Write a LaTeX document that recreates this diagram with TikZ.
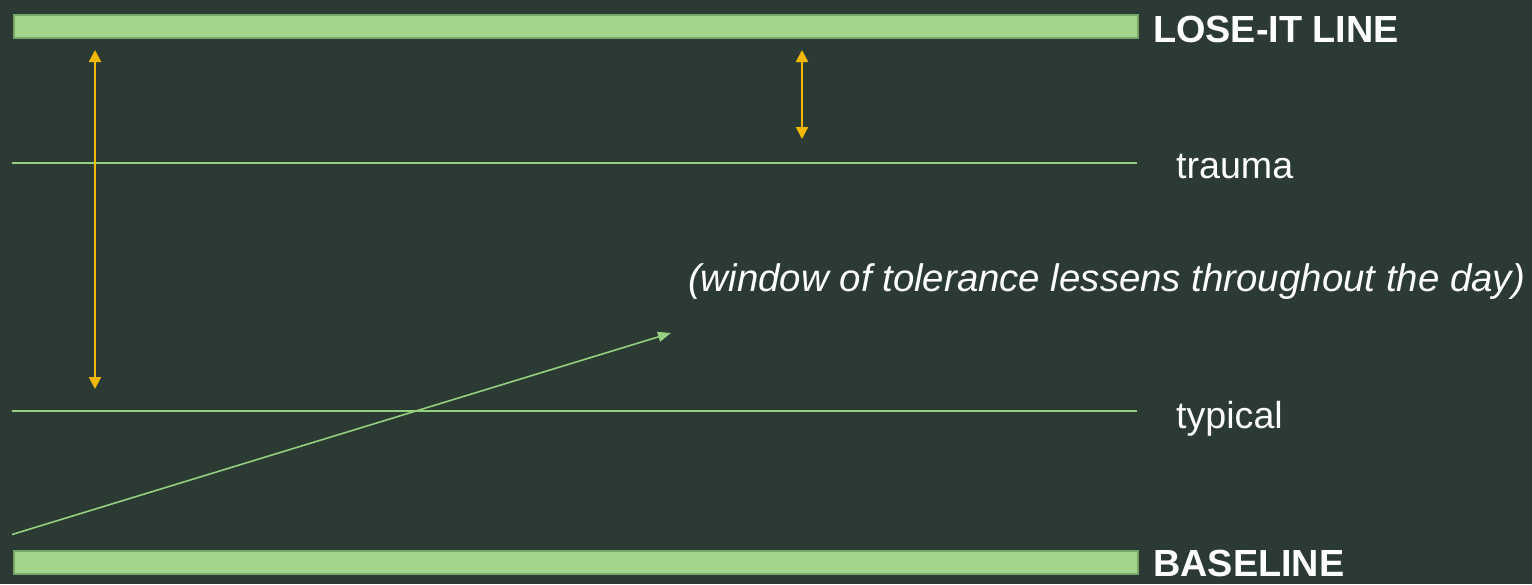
\documentclass[tikz,border=0pt]{standalone}
\usepackage{fontspec}
\setmainfont{Liberation Sans}
\usetikzlibrary{arrows.meta}
\definecolor{bg}{HTML}{2B3A33}
\definecolor{barfill}{HTML}{A3D68C}
\definecolor{barline}{HTML}{78A666}
\definecolor{thinline}{HTML}{95CF80}
\definecolor{amber}{HTML}{F5B800}
\tikzset{
  bar/.style={draw=barline, line width=2.5pt, fill=barfill, minimum width=1124pt, minimum height=23pt, inner sep=0pt, anchor=north west},
  biglabel/.style={text=white, font=\fontsize{37.8}{45}\selectfont\bfseries, anchor=base west, inner sep=0pt},
  smalllabel/.style={text=white, font=\fontsize{37.6}{45}\selectfont, anchor=base west, inner sep=0pt},
  notelabel/.style={text=white, font=\fontsize{38.4}{45}\selectfont\itshape, anchor=base west, inner sep=0pt},
  level/.style={draw=thinline, line width=1.6pt},
  span/.style={draw=amber, line width=2pt, {Triangle[width=12pt,length=12pt]}-{Triangle[width=12pt,length=12pt]}},
  trend/.style={draw=thinline, line width=1.6pt, -{Triangle[width=10pt,length=13pt]}}
}
\begin{document}
\begin{tikzpicture}[x=1pt,y=-1pt]
\fill[bg] (0,0) rectangle (1532,584);
\useasboundingbox (0,0) rectangle (1532,584);
% bars
\node[bar] (topbar) at (12.5,13.5) {};
\node[bar] (botbar) at (12.5,549.5) {};
\node[biglabel] (loseit) at (1153,42) {LOSE-IT LINE};
\node[biglabel] (baseline) at (1153,576) {BASELINE};
% level lines
\coordinate (traumaL) at (12,163);
\coordinate (traumaR) at (1137,163);
\coordinate (typL) at (12,411);
\coordinate (typR) at (1137,411);
\draw[level] (traumaL) -- (traumaR);
\draw[level] (typL) -- (typR);
\node[smalllabel] (trauma) at (1176,178) {trauma};
\node[smalllabel] (typical) at (1176,428) {typical};
\node[notelabel] (note) at (688,291) {(window of tolerance lessens throughout the day)};
% amber arrows
\coordinate (a1t) at (95,50);
\coordinate (a1b) at (95,389);
\coordinate (a2t) at (802,50);
\coordinate (a2b) at (802,139);
\draw[span] (a1t) -- (a1b);
\draw[span] (a2t) -- (a2b);
% trend arrow
\coordinate (trendS) at (12,534.5);
\coordinate (trendE) at (671,333);
\draw[trend] (trendS) -- (trendE);
\end{tikzpicture}
\end{document}
